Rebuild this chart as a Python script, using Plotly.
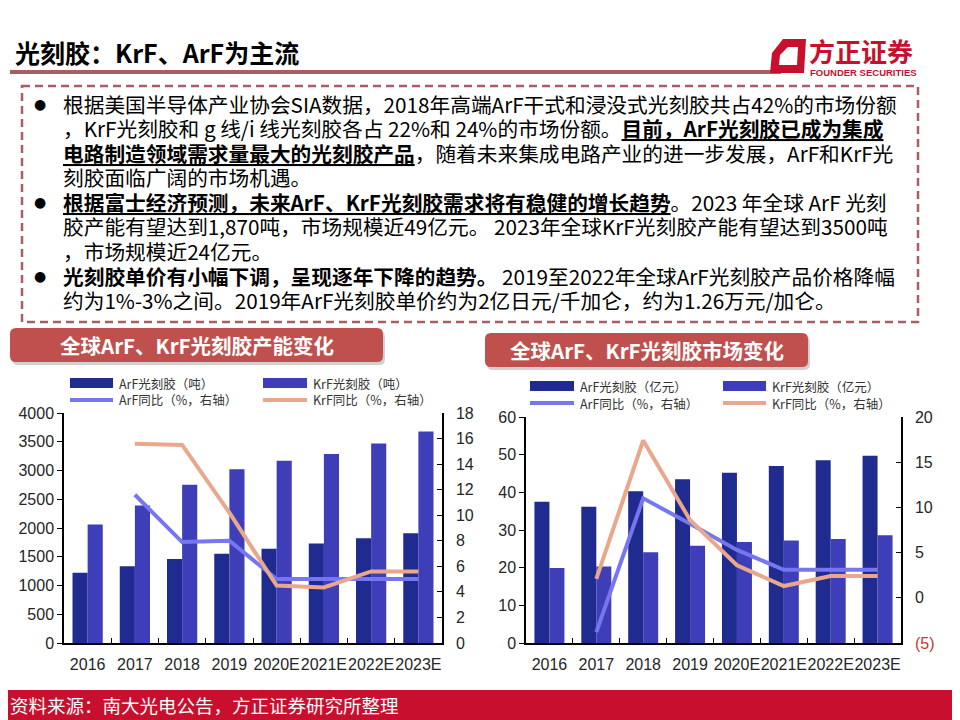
import plotly.graph_objects as go

W, H = 960, 720
OFF = 8  # page body margin that the browser adds round the figure

years = ["2016", "2017", "2018", "2019", "2020E", "2021E", "2022E", "2023E"]

# 全球产能（吨）
cap_arf = [1220, 1335, 1460, 1550, 1640, 1730, 1820, 1910]
cap_krf = [2060, 2390, 2750, 3020, 3170, 3285, 3470, 3680]
cap_arf_yoy = [None, 11.6, 7.9, 8.0, 5.0, 5.0, 5.0, 5.0]
cap_krf_yoy = [None, 15.6, 15.5, 10.2, 4.5, 4.35, 5.6, 5.6]

# 全球市场（亿元）
mkt_arf = [37.5, 36.2, 40.3, 43.5, 45.2, 47.0, 48.5, 49.7]
mkt_krf = [19.9, 20.3, 24.1, 25.8, 26.8, 27.2, 27.6, 28.6]
mkt_arf_yoy = [None, -3.8, 11.0, 8.2, 5.3, 3.1, 3.1, 3.1]
mkt_krf_yoy = [None, 2.1, 17.4, 8.6, 3.6, 1.3, 2.4, 2.4]

mkt_right_ticks = [-5, 0, 5, 10, 15, 20]
mkt_right_labels = ["<span style='color:#c0392b'>(5)</span>", "0", "5", "10", "15", "20"]

title = "光刻胶：KrF、ArF为主流"
body_lines = [
    (True, "根据美国半导体产业协会SIA数据，2018年高端ArF干式和浸没式光刻胶共占42%的市场份额"),
    (False, "，KrF光刻胶和 g 线/i 线光刻胶各占 22%和 24%的市场份额。<b><u>目前，ArF光刻胶已成为集成</u></b>"),
    (False, "<b><u>电路制造领域需求量最大的光刻胶产品</u></b>，随着未来集成电路产业的进一步发展，ArF和KrF光"),
    (False, "刻胶面临广阔的市场机遇。"),
    (True, "<b><u>根据富士经济预测，未来ArF、KrF光刻胶需求将有稳健的增长趋势</u></b>。2023 年全球 ArF 光刻"),
    (False, "胶产能有望达到1,870吨，市场规模近49亿元。 2023年全球KrF光刻胶产能有望达到3500吨"),
    (False, "，市场规模近24亿元。"),
    (True, "<b>光刻胶单价有小幅下调，呈现逐年下降的趋势。</b> 2019至2022年全球ArF光刻胶产品价格降幅"),
    (False, "约为1%-3%之间。2019年ArF光刻胶单价约为2亿日元/千加仑，约为1.26万元/加仑。"),
]
left_label = "全球ArF、KrF光刻胶产能变化"
right_label = "全球ArF、KrF光刻胶市场变化"
left_legend = ["ArF光刻胶（吨）", "KrF光刻胶（吨）", "ArF同比（%，右轴）", "KrF同比（%，右轴）"]
right_legend = ["ArF光刻胶（亿元）", "KrF光刻胶（亿元）", "ArF同比（%，右轴）", "KrF同比（%，右轴）"]
source = "资料来源：南大光电公告，方正证券研究所整理"

ARF_BAR = "#1f2b8e"
KRF_BAR = "#3e3eb8"
ARF_LINE = "#7676f0"
KRF_LINE = "#e9a88b"
RED = "#c8102e"
BOX_RED = "#c0504d"
ROSE = "#a85e63"
CJK = "Noto Sans CJK SC"
NUM = "Liberation Sans"


# screen pixel -> paper fraction
def px(x):
    return (x - OFF) / W


def py(y):
    return 1 - (y - OFF) / H


def rrect(x0, y0, x1, y1, r):
    a, b, c, d = px(x0), py(y0), px(x1), py(y1)
    rx, ry = r / W, r / H
    return (f"M {a + rx} {b} L {c - rx} {b} Q {c} {b} {c} {b - ry} "
            f"L {c} {d + ry} Q {c} {d} {c - rx} {d} L {a + rx} {d} "
            f"Q {a} {d} {a} {d + ry} L {a} {b - ry} Q {a} {b} {a + rx} {b} Z")


def poly(points):
    s = " L ".join(f"{px(x)} {py(y)}" for x, y in points)
    return f"M {s} Z"


def note(x, y, text, size, color, family=CJK, anchor="left"):
    return dict(x=px(x), y=py(y), xref="paper", yref="paper", text=text, showarrow=False,
                xanchor=anchor, yanchor="middle", font=dict(family=family, size=size, color=color))


fig = go.Figure()

# left chart: capacity
fig.add_trace(go.Bar(x=years, y=cap_arf, marker=dict(color=ARF_BAR, line_width=0),
                     xaxis="x", yaxis="y", showlegend=False))
fig.add_trace(go.Bar(x=years, y=cap_krf, marker=dict(color=KRF_BAR, line_width=0),
                     xaxis="x", yaxis="y", showlegend=False))
fig.add_trace(go.Scatter(x=years, y=cap_arf_yoy, mode="lines", line=dict(color=ARF_LINE, width=4),
                         xaxis="x", yaxis="y2", showlegend=False))
fig.add_trace(go.Scatter(x=years, y=cap_krf_yoy, mode="lines", line=dict(color=KRF_LINE, width=4),
                         xaxis="x", yaxis="y2", showlegend=False))

# right chart: market
fig.add_trace(go.Bar(x=years, y=mkt_arf, marker=dict(color=ARF_BAR, line_width=0),
                     xaxis="x2", yaxis="y3", showlegend=False))
fig.add_trace(go.Bar(x=years, y=mkt_krf, marker=dict(color=KRF_BAR, line_width=0),
                     xaxis="x2", yaxis="y3", showlegend=False))
fig.add_trace(go.Scatter(x=years, y=mkt_arf_yoy, mode="lines", line=dict(color=ARF_LINE, width=4),
                         xaxis="x2", yaxis="y4", showlegend=False))
fig.add_trace(go.Scatter(x=years, y=mkt_krf_yoy, mode="lines", line=dict(color=KRF_LINE, width=4),
                         xaxis="x2", yaxis="y4", showlegend=False))

tickfont = dict(family=NUM, size=16, color="#262626")
common_x = dict(type="category", showline=True, linecolor="black", linewidth=1.5,
                ticks="inside", tickson="boundaries", ticklen=5, tickcolor="black",
                tickfont=tickfont, showgrid=False, ticklabelstandoff=6, tickangle=0,
                automargin=False)
common_y = dict(showline=True, linecolor="black", linewidth=1.5, ticklen=5, tickcolor="black",
                tickfont=tickfont, showgrid=False, zeroline=False, automargin=False)

fig.update_layout(
    width=W, height=H, margin=dict(l=0, r=0, t=0, b=0, autoexpand=False),
    paper_bgcolor="white", plot_bgcolor="rgba(0,0,0,0)",
    barmode="group", bargap=0.36, bargroupgap=0,
    showlegend=False,
    xaxis=dict(domain=[px(64), px(442)], anchor="y", **common_x),
    yaxis=dict(domain=[py(643), py(413)], anchor="x", range=[0, 4000], dtick=500,
               ticks="outside", **common_y),
    yaxis2=dict(overlaying="y", side="right", anchor="x", range=[0, 18], dtick=2,
                ticks="inside", ticklabelstandoff=9, **common_y),
    xaxis2=dict(domain=[px(526), px(901)], anchor="y3", **common_x),
    yaxis3=dict(domain=[py(643), py(417)], anchor="x2", range=[0, 60], dtick=10,
                ticks="outside", **common_y),
    yaxis4=dict(overlaying="y3", side="right", anchor="x2", range=[-5, 20],
                tickvals=mkt_right_ticks, ticktext=mkt_right_labels,
                ticks="inside", ticklabelstandoff=9, **common_y),
)

shapes = []
ann = []

# header
ann.append(note(13, 52, f"<b>{title}</b>", 25, "black"))
shapes.append(dict(type="line", xref="paper", yref="paper", x0=px(10), x1=px(781),
                   y0=py(72), y1=py(72), line=dict(color=ROSE, width=4)))

# logo
shapes.append(dict(type="path", xref="paper", yref="paper",
                   path=poly([(783, 39), (806, 39), (804, 73), (770, 73), (772, 53)]),
                   fillcolor=RED, line_width=0))
shapes.append(dict(type="path", xref="paper", yref="paper",
                   path=poly([(788, 47), (798, 47), (797, 65), (779, 65), (780, 55)]),
                   fillcolor="white", line_width=0))
ann.append(note(807, 50, "<b>方正证券</b>", 26, RED))
ann.append(note(808, 72, "<b>FOUNDER SECURITIES</b>", 9.5, RED,
                family="Liberation Sans Narrow, Liberation Sans"))

# dashed text box
shapes.append(dict(type="rect", xref="paper", yref="paper", x0=px(22), x1=px(918),
                   y0=py(86), y1=py(322), line=dict(color=ROSE, width=2.5, dash="8px,5px")))

line_y0, line_step = 104, 24.5
for i, (bullet, txt) in enumerate(body_lines):
    yy = line_y0 + i * line_step
    if bullet:
        ann.append(note(40, yy, "●", 14, "black", family="DejaVu Sans", anchor="center"))
    ann.append(note(61, yy, txt, 20.7, "black"))

# section label boxes
for (x0, y0, x1, y1), label in [((10, 328, 383, 362), left_label), ((485, 333, 808, 367), right_label)]:
    shapes.append(dict(type="path", xref="paper", yref="paper",
                       path=rrect(x0 + 2, y0 + 3, x1 + 2, y1 + 3, 6),
                       fillcolor="rgba(0,0,0,0.18)", line_width=0))
    shapes.append(dict(type="path", xref="paper", yref="paper",
                       path=rrect(x0, y0, x1, y1, 6), fillcolor=BOX_RED, line_width=0))
    ann.append(note((x0 + x1) / 2, (y0 + y1) / 2, f"<b>{label}</b>", 20.5, "white", anchor="center"))

# legends
for (sx0, sx1, kx0, kx1, r1, r2), labels in [((70, 113, 263, 307, 383, 400), left_legend),
                                              ((530, 574, 723, 766, 386, 403), right_legend)]:
    shapes.append(dict(type="rect", xref="paper", yref="paper", x0=px(sx0), x1=px(sx1),
                       y0=py(r1 - 5), y1=py(r1 + 5), fillcolor=ARF_BAR, line_width=0))
    shapes.append(dict(type="rect", xref="paper", yref="paper", x0=px(kx0), x1=px(kx1),
                       y0=py(r1 - 5), y1=py(r1 + 5), fillcolor=KRF_BAR, line_width=0))
    shapes.append(dict(type="line", xref="paper", yref="paper", x0=px(sx0), x1=px(sx1),
                       y0=py(r2), y1=py(r2), line=dict(color=ARF_LINE, width=4)))
    shapes.append(dict(type="line", xref="paper", yref="paper", x0=px(kx0), x1=px(kx1),
                       y0=py(r2), y1=py(r2), line=dict(color=KRF_LINE, width=4)))
    for (lx, ly), lab in zip([(sx1 + 4, r1), (kx1 + 4, r1), (sx1 + 4, r2), (kx1 + 4, r2)], labels):
        ann.append(note(lx, ly, lab, 12.5, "#333333"))

# footer
shapes.append(dict(type="rect", xref="paper", yref="paper", x0=0, x1=1,
                   y0=py(720), y1=py(690), fillcolor=RED, line_width=0, layer="below"))
ann.append(note(8, 705, source, 18.5, "white"))

fig.update_layout(shapes=shapes, annotations=ann)

fig.write_html("out.html")
